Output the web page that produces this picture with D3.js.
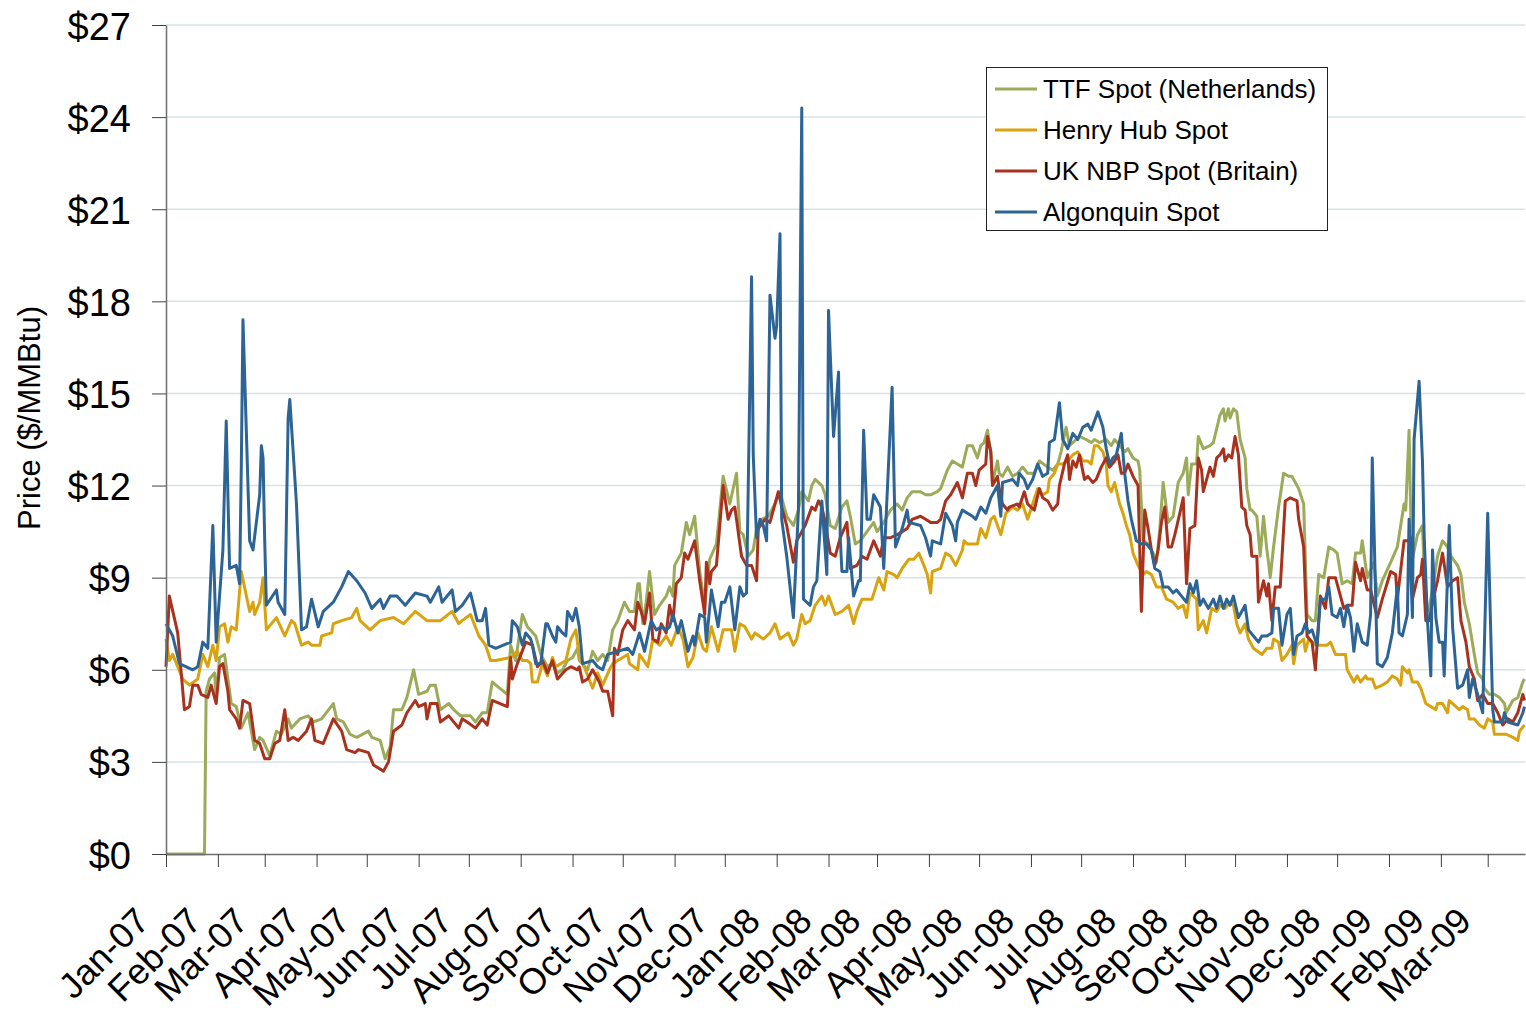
<!DOCTYPE html>
<html><head><meta charset="utf-8">
<script src="https://cdn.jsdelivr.net/npm/d3@7"></script>
<style>
body{margin:0;background:#fff}
svg{display:block}
text{font-family:"Liberation Sans",Arial,Helvetica,sans-serif;fill:#000}
</style>
</head><body>
<svg id="chart" width="1526" height="1016"></svg>
<script>
// ---- DATA (day = days since 1 Jan 2007, value = $/MMBtu) ----
const seriesNames = ["TTF Spot (Netherlands)", "Henry Hub Spot", "UK NBP Spot (Britain)", "Algonquin Spot"];
const yTickValues = [0, 3, 6, 9, 12, 15, 18, 21, 24, 27];

const ttf = [[0,0],[23,0],[24,5.3],[26,5.7],[29,5.9],[30,5.1],[32,6.4],[35,6.5],[39,4.9],[42,4.8],[45,4.1],[49,4.6],[53,3.4],[56,3.8],[58,3.7],[62,3.2],[66,4.0],[69,3.9],[73,4.4],[75,4.1],[80,4.4],[85,4.5],[88,4.3],[93,4.4],[100,4.9],[102,4.4],[106,4.3],[110,3.9],[114,3.8],[121,4.0],[123,3.8],[128,3.7],[131,3.1],[134,3.5],[136,4.7],[141,4.7],[144,5.1],[148,6.0],[151,5.2],[156,5.3],[158,5.5],[161,5.5],[164,4.7],[169,4.9],[172,4.7],[176,4.5],[179,4.5],[182,4.5],[185,4.3],[189,4.6],[192,4.6],[195,5.6],[204,5.2],[206,6.8],[209,6.3],[213,7.8],[216,7.4],[221,7.1],[224,6.5],[228,6.1],[231,6.2],[234,5.9],[237,6.0],[240,6.3],[243,6.4],[246,6.7],[247,6.3],[252,6.0],[255,6.6],[258,6.3],[261,6.5],[264,6.3],[267,7.3],[270,7.6],[274,8.2],[277,7.9],[280,7.9],[282,8.8],[283,8.8],[285,7.5],[287,8.2],[289,9.2],[292,7.8],[295,8.1],[299,8.4],[301,8.7],[303,8.4],[304,9.4],[308,9.8],[311,10.8],[313,10.4],[316,11.0],[319,9.2],[322,8.1],[325,9.6],[329,10.1],[333,12.3],[337,11.4],[341,12.4],[343,10.5],[345,10.4],[348,9.7],[351,9.9],[353,10.6],[356,10.9],[360,11.0],[364,11.4],[367,11.8],[371,11.0],[375,10.7],[378,11.2],[380,11.8],[384,11.5],[386,12.0],[388,12.2],[392,12.0],[394,11.7],[397,10.7],[400,10.6],[404,11.3],[407,11.5],[409,11.0],[412,10.1],[415,10.2],[419,10.5],[423,10.8],[425,10.5],[429,10.8],[433,11.2],[437,11.4],[440,11.2],[443,11.6],[446,11.8],[451,11.8],[454,11.7],[457,11.7],[461,11.8],[463,11.9],[467,12.5],[470,12.8],[473,12.7],[476,12.6],[479,13.3],[482,13.3],[485,12.9],[487,13.3],[489,13.4],[491,13.8],[493,13.1],[494,12.1],[497,12.8],[498,12.4],[500,12.3],[503,12.6],[506,12.3],[509,12.4],[512,12.6],[515,12.4],[519,12.4],[522,12.8],[527,12.6],[530,12.5],[533,12.7],[535,13.1],[538,13.9],[540,13.3],[542,13.4],[546,13.6],[550,13.5],[553,13.4],[555,13.5],[558,13.4],[562,13.5],[565,13.3],[567,13.5],[570,13.3],[573,13.1],[575,13.2],[578,12.9],[581,12.8],[582,12.5],[584,10.2],[587,10.1],[590,9.8],[592,9.5],[594,10.6],[596,12.1],[599,10.8],[602,11.0],[605,12.1],[608,12.4],[610,12.9],[611,11.7],[613,12.7],[616,12.7],[617,13.6],[620,13.2],[624,13.3],[626,13.4],[630,14.3],[632,14.5],[633,14.1],[635,14.5],[636,14.2],[638,14.5],[640,14.4],[642,13.5],[645,12.9],[646,11.9],[648,11.2],[649,11.2],[652,11.0],[654,9.7],[656,11.0],[658,9.9],[659,9.5],[660,9.0],[662,10.0],[665,11.3],[668,12.4],[671,12.3],[673,12.3],[676,12.0],[677,11.9],[680,11.4],[682,7.8],[685,7.6],[687,7.6],[689,9.1],[692,9.0],[695,10.0],[698,9.9],[700,9.8],[703,8.8],[706,8.9],[709,8.8],[711,9.8],[714,9.8],[715,10.2],[718,9.0],[722,9.5],[724,8.4],[727,8.9],[732,9.5],[736,10.0],[740,11.4],[741,11.2],[743,13.8],[744,11.0],[745,9.6],[748,10.4],[751,10.7],[753,7.8],[755,8.0],[757,8.6],[760,9.7],[763,10.2],[766,10.0],[768,9.7],[772,9.4],[774,9.1],[776,8.2],[779,7.5],[782,6.5],[784,5.9],[787,5.7],[788,5.4],[791,5.2],[794,5.2],[797,5.1],[800,4.9],[801,4.6],[805,5.0],[808,5.1],[811,5.6],[812,5.7]];

const henryHub = [[0,7.0],[2,6.3],[4,6.5],[10,5.7],[14,5.5],[19,5.7],[22,6.5],[25,6.1],[28,6.8],[30,6.3],[32,7.4],[35,7.5],[37,6.9],[39,7.4],[42,7.3],[45,9.2],[50,7.9],[52,8.2],[53,7.8],[56,8.2],[58,9.0],[60,7.3],[66,7.7],[71,7.1],[75,7.6],[77,7.5],[81,6.8],[85,6.9],[87,6.8],[92,6.8],[93,7.1],[99,7.2],[100,7.5],[105,7.6],[111,7.7],[114,8.0],[116,7.6],[122,7.3],[128,7.6],[136,7.7],[142,7.5],[149,7.9],[156,7.6],[162,7.6],[164,7.6],[171,7.9],[175,7.5],[177,7.6],[182,7.8],[187,7.1],[191,6.8],[194,6.3],[197,6.3],[206,6.4],[210,6.6],[213,6.3],[216,6.3],[218,6.2],[219,5.6],[222,5.6],[225,6.2],[228,5.8],[231,6.4],[233,6.1],[236,6.2],[239,6.3],[242,7.0],[245,7.3],[247,6.4],[250,6.1],[255,5.4],[258,5.9],[261,5.5],[265,6.0],[267,6.2],[270,6.3],[276,6.5],[277,6.2],[282,6.0],[283,6.5],[288,6.1],[291,7.0],[295,6.8],[299,7.1],[302,6.8],[306,7.4],[309,7.0],[312,6.1],[315,6.4],[318,7.2],[321,6.7],[323,6.6],[326,7.4],[330,6.6],[333,7.3],[338,7.3],[340,6.6],[343,7.5],[346,7.4],[350,7.0],[352,7.2],[357,7.0],[361,7.2],[364,7.5],[367,7.0],[372,7.2],[375,6.8],[377,7.0],[380,7.8],[382,7.5],[385,7.6],[388,8.1],[392,8.4],[394,8.1],[396,8.4],[400,7.8],[404,7.9],[408,8.1],[411,7.5],[413,7.9],[416,8.3],[422,8.3],[426,9.0],[429,8.6],[431,9.2],[435,9.1],[437,9.0],[440,9.3],[444,9.6],[447,9.6],[450,9.8],[453,9.4],[455,9.1],[457,8.5],[458,9.2],[463,9.3],[466,9.8],[469,9.7],[472,9.4],[476,9.9],[477,10.2],[479,10.1],[482,10.1],[485,10.1],[487,10.6],[490,10.3],[493,10.9],[495,11.0],[497,10.7],[499,10.4],[502,11.1],[506,11.3],[509,11.2],[512,11.4],[515,10.9],[518,11.4],[521,11.9],[524,11.7],[527,11.8],[528,12.2],[531,12.4],[533,12.7],[536,12.7],[539,12.8],[542,13.0],[545,13.1],[548,12.8],[551,12.8],[553,12.7],[555,13.3],[557,13.3],[560,13.1],[562,12.7],[563,12.0],[565,11.8],[567,12.1],[570,11.4],[572,11.1],[574,10.7],[576,10.4],[578,9.8],[581,9.4],[584,9.1],[586,9.2],[589,9.1],[592,8.7],[595,8.7],[598,8.3],[602,8.2],[605,8.0],[608,8.1],[610,7.7],[612,8.5],[616,8.3],[617,7.3],[620,7.6],[622,7.2],[625,8.0],[628,7.9],[630,8.1],[633,8.0],[636,8.2],[638,8.1],[640,7.5],[642,7.2],[645,7.5],[647,7.0],[650,6.7],[655,6.5],[658,6.7],[661,6.7],[662,7.0],[665,6.9],[667,6.3],[670,6.5],[673,6.8],[674,6.2],[676,6.8],[680,7.0],[681,6.6],[683,7.0],[687,6.8],[690,6.8],[694,6.8],[696,6.9],[699,6.5],[702,6.5],[705,6.5],[706,6.0],[710,5.6],[712,5.8],[714,5.6],[717,5.8],[718,5.7],[721,5.7],[723,5.4],[727,5.5],[730,5.6],[733,5.8],[736,5.7],[738,5.5],[739,6.1],[742,5.9],[743,6.0],[745,5.6],[748,5.6],[750,5.4],[753,4.9],[756,4.8],[759,4.7],[760,4.9],[763,4.9],[766,4.6],[767,5.0],[769,4.9],[773,4.7],[775,4.8],[778,4.7],[779,4.4],[782,4.4],[785,4.2],[788,4.1],[790,4.4],[793,4.3],[794,3.9],[799,3.9],[801,3.9],[805,3.8],[808,3.7],[809,4.0],[812,4.2]];

const ukNbp = [[0,6.1],[2,8.4],[7,7.2],[11,4.7],[14,4.8],[16,5.5],[19,5.5],[21,5.2],[25,5.1],[27,5.5],[30,4.9],[32,6.1],[34,6.2],[37,5.3],[38,4.7],[42,4.4],[44,4.1],[46,5.0],[50,4.9],[53,3.7],[56,3.6],[59,3.1],[62,3.1],[65,3.6],[68,3.7],[71,4.7],[73,3.7],[76,3.8],[79,3.7],[84,4.0],[87,4.4],[89,3.7],[94,3.6],[97,4.0],[100,4.4],[105,4.0],[108,3.4],[113,3.3],[115,3.4],[121,3.3],[124,2.9],[130,2.7],[133,3.0],[136,4.0],[141,4.2],[144,4.6],[149,5.0],[151,4.8],[155,4.9],[156,4.4],[158,4.9],[162,4.9],[164,4.3],[169,4.5],[175,4.1],[177,4.4],[180,4.3],[185,4.1],[189,4.4],[192,4.2],[195,5.0],[204,4.8],[206,6.4],[207,5.7],[210,6.2],[215,6.9],[219,6.8],[222,6.1],[225,6.3],[228,5.9],[231,6.3],[234,5.7],[239,6.0],[242,6.1],[246,6.0],[247,6.1],[249,5.6],[252,5.7],[255,6.0],[259,5.6],[261,5.3],[264,5.3],[267,4.5],[268,6.7],[270,6.5],[273,7.3],[276,7.6],[280,7.3],[282,8.2],[284,7.9],[286,7.5],[289,8.5],[291,7.0],[294,6.9],[296,7.5],[299,7.2],[301,8.1],[303,7.6],[305,8.8],[308,9.0],[310,9.8],[312,9.6],[316,10.2],[319,8.9],[322,7.8],[323,9.5],[325,8.8],[326,9.2],[329,9.4],[333,12.0],[336,10.9],[338,11.2],[340,11.3],[344,9.7],[347,9.4],[350,9.4],[353,8.9],[354,10.6],[358,10.9],[361,10.8],[366,11.8],[368,11.3],[371,10.7],[375,9.5],[377,10.2],[380,10.5],[382,10.7],[386,11.3],[388,11.2],[390,11.5],[392,11.3],[394,10.8],[397,9.8],[400,9.7],[403,10.3],[407,10.8],[409,9.3],[413,9.4],[416,9.7],[419,9.6],[423,10.2],[427,9.7],[429,10.3],[433,10.3],[437,10.4],[440,10.5],[443,10.6],[446,10.9],[451,11.0],[454,10.9],[457,10.8],[461,10.8],[463,10.9],[466,11.5],[469,11.7],[473,12.1],[476,11.6],[479,12.4],[482,12.4],[484,12.0],[486,12.5],[490,12.7],[491,13.6],[493,13.1],[494,12.0],[497,12.3],[498,11.9],[500,11.4],[503,11.2],[504,11.3],[509,11.4],[510,11.3],[513,11.8],[515,11.4],[519,11.2],[522,11.9],[524,11.6],[527,11.5],[530,11.2],[533,11.4],[534,12.0],[537,12.7],[539,13.0],[540,12.2],[542,12.8],[544,12.6],[546,13.0],[549,12.2],[551,12.3],[554,12.1],[556,12.2],[559,12.6],[562,12.9],[564,12.6],[567,12.8],[569,13.0],[571,12.4],[573,12.4],[575,12.7],[578,12.3],[581,12.0],[583,7.9],[585,11.2],[587,10.6],[589,9.9],[591,9.4],[593,9.9],[595,10.8],[597,11.3],[599,10.0],[601,10.0],[603,10.4],[606,11.1],[608,11.6],[610,8.8],[612,10.6],[615,10.7],[617,12.9],[619,12.5],[620,11.8],[622,12.2],[624,12.6],[626,12.3],[628,12.9],[630,13.0],[632,13.2],[633,12.8],[635,13.0],[637,12.9],[639,13.6],[641,13.0],[643,11.3],[645,11.2],[646,10.7],[648,10.4],[649,9.7],[652,9.7],[653,8.2],[656,8.9],[658,8.4],[659,8.8],[661,7.6],[663,8.7],[666,8.7],[669,11.5],[672,11.6],[676,11.5],[677,10.9],[680,10.0],[682,7.1],[685,6.9],[687,6.0],[690,8.4],[693,8.0],[695,9.0],[699,9.0],[700,8.8],[704,8.0],[706,8.1],[709,8.1],[711,9.5],[714,8.9],[715,9.3],[718,8.6],[720,8.6],[724,7.7],[727,8.3],[732,9.2],[735,9.1],[736,8.3],[740,10.2],[742,10.2],[744,10.3],[745,8.3],[748,9.0],[750,9.1],[751,9.6],[753,7.6],[755,7.6],[757,8.2],[760,8.9],[763,9.8],[766,8.7],[769,8.9],[772,9.0],[774,7.6],[777,6.9],[779,6.1],[782,5.7],[784,5.0],[787,5.2],[790,4.9],[793,4.9],[796,4.6],[799,4.2],[802,4.4],[805,4.3],[808,4.6],[811,5.2],[812,5.0]];

const algonquin = [[0,7.5],[4,7.1],[8,6.2],[16,6.0],[19,6.1],[22,6.9],[25,6.7],[28,10.7],[30,6.9],[34,9.9],[36,14.1],[38,9.3],[42,9.4],[44,8.8],[45,12.6],[46,17.4],[48,13.8],[50,10.2],[52,9.9],[56,11.7],[57,13.3],[58,12.9],[59,10.2],[60,8.1],[66,8.6],[67,8.2],[71,7.8],[73,14.2],[74,14.8],[78,11.4],[81,7.3],[84,7.4],[87,8.3],[91,7.4],[94,7.9],[100,8.2],[105,8.7],[109,9.2],[114,8.9],[119,8.5],[123,8.0],[128,8.3],[130,8.0],[134,8.4],[138,8.4],[143,8.1],[149,8.5],[156,8.4],[158,8.2],[163,8.7],[165,8.2],[171,8.6],[173,7.9],[177,8.1],[182,8.5],[186,7.6],[189,7.6],[191,8.0],[193,6.8],[197,6.7],[206,6.9],[207,7.6],[210,7.4],[213,6.8],[215,7.2],[218,7.0],[219,6.8],[221,6.2],[224,6.2],[227,7.5],[228,7.5],[231,7.1],[233,6.9],[234,7.4],[237,7.2],[239,7.1],[240,7.9],[243,7.6],[245,8.0],[247,7.4],[249,6.2],[255,6.3],[258,6.1],[261,6.0],[264,6.5],[270,6.6],[276,6.7],[279,6.5],[283,7.2],[286,6.6],[290,7.6],[293,7.3],[296,7.4],[299,7.3],[301,7.4],[303,7.8],[306,7.2],[308,7.6],[312,6.6],[315,7.1],[316,6.8],[319,7.8],[322,7.7],[323,6.9],[326,8.6],[330,7.4],[332,8.2],[334,8.2],[337,8.7],[340,7.3],[343,8.7],[345,8.4],[347,8.5],[350,18.8],[351,13.0],[353,10.3],[355,10.9],[357,10.7],[359,10.2],[361,18.2],[364,16.8],[365,17.2],[367,20.2],[368,10.9],[371,9.7],[375,7.7],[378,11.2],[380,24.3],[381,8.3],[385,8.1],[387,8.7],[389,8.9],[392,11.5],[395,9.1],[396,17.7],[399,13.6],[402,15.7],[403,10.3],[404,9.2],[407,9.2],[408,10.3],[411,8.4],[414,8.9],[415,8.9],[417,13.8],[419,10.9],[421,10.9],[423,11.7],[427,11.3],[429,9.3],[434,15.2],[436,10.0],[440,10.6],[443,11.2],[444,10.8],[451,10.7],[454,10.3],[457,9.7],[458,10.2],[463,10.1],[466,11.1],[470,10.7],[472,10.2],[473,10.8],[476,11.2],[482,11.0],[484,10.9],[487,11.3],[490,11.1],[493,11.6],[497,12.0],[499,11.0],[500,12.1],[506,12.2],[509,12.0],[510,12.4],[513,12.2],[515,11.9],[518,12.2],[521,12.7],[524,12.3],[527,12.4],[528,13.4],[531,13.5],[534,14.7],[536,13.5],[539,13.2],[542,13.7],[545,13.5],[548,13.9],[551,14.0],[553,13.8],[555,14.1],[557,14.4],[560,13.9],[562,13.2],[564,12.7],[566,12.9],[568,13.0],[571,13.7],[573,12.4],[575,11.5],[577,10.9],[580,10.2],[583,10.1],[586,10.1],[589,9.9],[591,9.3],[594,9.2],[596,8.7],[599,8.7],[602,8.5],[604,8.6],[607,8.4],[610,8.2],[612,8.8],[614,8.5],[616,8.9],[618,8.1],[620,8.3],[623,8.0],[626,8.3],[628,8.0],[630,8.4],[632,8.0],[634,8.3],[636,8.1],[638,8.4],[641,7.7],[645,8.1],[647,7.3],[650,7.1],[653,6.9],[655,7.1],[658,7.1],[661,7.2],[662,8.0],[665,8.0],[667,6.8],[670,7.8],[672,8.0],[674,6.5],[676,7.1],[679,7.2],[681,7.5],[683,7.2],[685,7.3],[688,6.8],[690,8.3],[693,8.3],[695,8.7],[697,7.8],[700,7.7],[702,8.0],[704,7.4],[706,8.1],[708,7.7],[710,6.6],[712,7.5],[715,6.9],[718,6.8],[720,7.8],[721,12.9],[724,6.2],[727,6.1],[730,6.4],[733,7.2],[736,8.7],[737,7.2],[739,7.1],[742,7.8],[743,10.9],[745,7.7],[746,13.5],[749,15.4],[751,12.8],[752,10.4],[754,7.6],[756,5.8],[757,9.9],[759,7.7],[761,6.9],[763,6.9],[764,5.8],[767,10.7],[769,7.4],[772,5.4],[775,5.5],[778,6.0],[779,5.1],[781,5.7],[784,5.2],[787,4.6],[790,11.1],[793,4.7],[794,4.3],[799,4.3],[800,4.6],[802,4.3],[808,4.2],[811,4.6],[812,4.8]];

const seriesData = [ttf, henryHub, ukNbp, algonquin];
const seriesColors = ["#9BAB5A", "#D9A20F", "#A8321E", "#2D6496"];

// ---- CHART ----
const svg = d3.select("#chart");
const baseDate = new Date(2007, 0, 1);
const toDate = d => new Date(2007, 0, 1 + d);
const x = d3.scaleTime()
  .domain([baseDate, new Date(2009, 2, 23, 7)])
  .range([166, 1525]);
const y = d3.scaleLinear().domain([0, 27]).range([854, 25]);

// gridlines
svg.append("g").selectAll("line")
  .data(yTickValues.filter(v => v > 0))
  .join("line")
  .attr("x1", 166).attr("x2", 1525)
  .attr("y1", d => y(d)).attr("y2", d => y(d))
  .attr("stroke", "#d5e3e7").attr("stroke-width", 1.5);

// series
const line = d3.line().x(d => x(toDate(d[0]))).y(d => y(d[1]));
svg.append("g").selectAll("path")
  .data(seriesData)
  .join("path")
  .attr("d", line)
  .attr("fill", "none")
  .attr("stroke", (d, i) => seriesColors[i])
  .attr("stroke-width", 3)
  .attr("stroke-linejoin", "round");

// axes
const months = d3.timeMonth.range(baseDate, new Date(2009, 2, 2));
const xAxis = d3.axisBottom(x).tickValues(months).tickFormat(d3.timeFormat("%b-%y"))
  .tickSize(13).tickSizeOuter(0);
const gx = svg.append("g").attr("transform", "translate(0,854)").call(xAxis);
gx.select(".domain").attr("stroke", "#6e6e6e").attr("stroke-width", 1.5);
gx.selectAll(".tick line").attr("stroke", "#404040");
gx.selectAll(".tick text")
  .attr("x", 0).attr("y", 0).attr("dy", 0)
  .attr("transform", "translate(-15,69) rotate(-45)")
  .attr("text-anchor", "end")
  .style("font-size", "36px")
  .style("font-family", '"Liberation Sans", Arial, sans-serif')
  .attr("fill", "#000");

const yAxis = d3.axisLeft(y).tickValues(yTickValues).tickFormat(d => "$" + d)
  .tickSize(14).tickPadding(21).tickSizeOuter(0);
const gy = svg.append("g").attr("transform", "translate(166,0)").call(yAxis);
gy.select(".domain").attr("stroke", "#6e6e6e").attr("stroke-width", 1.5);
gy.selectAll(".tick line").attr("stroke", "#404040");
gy.selectAll(".tick text")
  .attr("dy", "0.37em")
  .style("font-size", "38px")
  .style("font-family", '"Liberation Sans", Arial, sans-serif')
  .attr("fill", "#000");

// y title
svg.append("text")
  .attr("transform", "translate(40,418) rotate(-90)")
  .attr("text-anchor", "middle")
  .style("font-size", "31px")
  .text("Price ($/MMBtu)");

// legend
const lg = svg.append("g");
lg.append("rect").attr("x", 986.5).attr("y", 67.5).attr("width", 341).attr("height", 163)
  .attr("fill", "#fff").attr("stroke", "#222").attr("stroke-width", 1);
const items = lg.selectAll("g.item").data(seriesNames).join("g").attr("class", "item")
  .attr("transform", (d, i) => `translate(0,${89 + i * 41})`);
items.append("line").attr("x1", 995).attr("x2", 1037).attr("y1", 0).attr("y2", 0)
  .attr("stroke", (d, i) => seriesColors[i]).attr("stroke-width", 3);
items.append("text").attr("x", 1043).attr("y", 0).attr("dy", "0.35em")
  .style("font-size", "26px").text(d => d);
</script>
</body></html>
